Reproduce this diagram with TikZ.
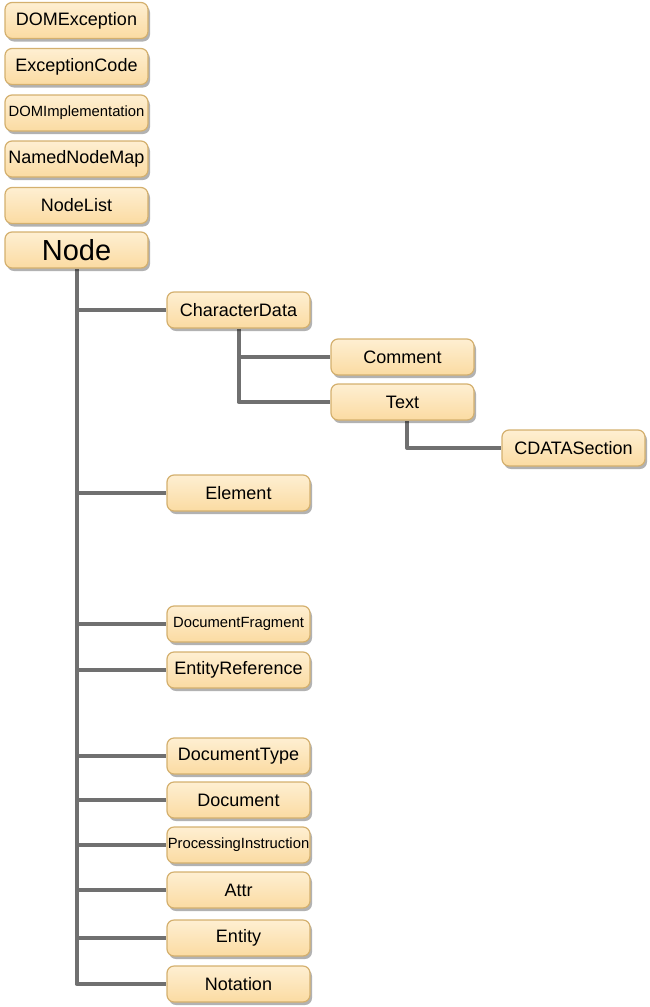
\documentclass[tikz,border=0pt]{standalone}
\usepackage{fontspec}
\setmainfont{Liberation Sans}
\usetikzlibrary{shadows,backgrounds}
\definecolor{boxtop}{HTML}{FEEFD2}
\definecolor{boxbot}{HTML}{FBDBA2}
\definecolor{boxborder}{HTML}{D4B06E}
\definecolor{linkgray}{HTML}{707070}
\tikzset{
  box/.style={draw=boxborder, line width=1.2pt, rounded corners=7pt,
    top color=boxtop, bottom color=boxbot,
    minimum width=143pt, minimum height=36pt, inner sep=0pt,
    font=\fontsize{18}{20}\selectfont,
    drop shadow={shadow xshift=2pt, shadow yshift=-3pt, opacity=0.3, fill=black}},
  smalltext/.style={font=\fontsize{14.8}{16}\selectfont},
  bigtext/.style={font=\fontsize{29}{31}\selectfont},
  link/.style={draw=linkgray, line width=4pt, line join=round}
}
\begin{document}
\begin{tikzpicture}[x=1pt,y=1pt]
\useasboundingbox (0,0) rectangle (650,-1007);
% left column
\node[box] (domex) at (76.5,-20.5) {DOMException};
\node[box] (exc) at (76.5,-66.5) {ExceptionCode};
\node[box,smalltext] (domimpl) at (76.5,-113) {DOMImplementation};
\node[box] (nnm) at (76.5,-159) {NamedNodeMap};
\node[box] (nl) at (76.5,-205.5) {NodeList};
% node and branches
\node[box,bigtext] (node) at (76.5,-250) {Node};
\node[box] (chardata) at (238.5,-310) {CharacterData};
\node[box] (comment) at (402.5,-357) {Comment};
\node[box] (text) at (402.5,-402) {Text};
\node[box] (cdata) at (573.5,-448) {CDATASection};
\node[box] (element) at (238.5,-493) {Element};
\node[box,smalltext] (docfrag) at (238.5,-624) {DocumentFragment};
\node[box] (entref) at (238.5,-670) {EntityReference};
\node[box] (doctype) at (238.5,-756) {DocumentType};
\node[box] (document) at (238.5,-800) {Document};
\node[box,smalltext] (procinst) at (238.5,-845) {ProcessingInstruction};
\node[box] (attr) at (238.5,-890) {Attr};
\node[box] (entity) at (238.5,-938) {Entity};
\node[box] (notation) at (238.5,-984) {Notation};
% connectors
\begin{scope}[on background layer]
\draw[link] (node.south) |- (notation.west);
\foreach \n in {chardata,element,docfrag,entref,doctype,document,procinst,attr,entity}
  \draw[link] (node.south |- \n.west) -- (\n.west);
\draw[link] (chardata.south) |- (text.west);
\draw[link] (chardata.south |- comment.west) -- (comment.west);
\draw[link] ([xshift=4.5pt]text.south) |- (cdata.west);
\end{scope}
\end{tikzpicture}
\end{document}
